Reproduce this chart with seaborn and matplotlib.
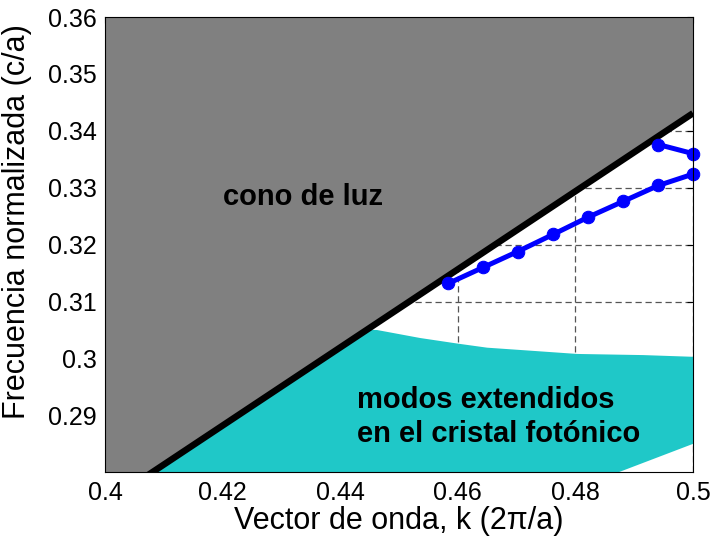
import numpy as np
import pandas as pd
import matplotlib
matplotlib.use("Agg")
import matplotlib.pyplot as plt
from matplotlib.ticker import FormatStrFormatter
import seaborn as sns

# light line (cono de luz boundary)
luz_k = [0.40, 0.50]
luz_f = [0.2745, 0.3431]

# extended modes region (cyan), upper and lower edges
ext_top_k = [0.40, 0.4463, 0.4536, 0.4601, 0.4650, 0.4706, 0.4803, 0.4915, 0.50]
ext_top_f = [0.3072, 0.3050, 0.3036, 0.3026, 0.3019, 0.3015, 0.3008, 0.3006, 0.3003]
ext_bot_k = [0.40, 0.4868, 0.50]
ext_bot_f = [0.246, 0.2798, 0.2850]

# guided bands
band1_k = [0.4584, 0.4643, 0.4702, 0.4762, 0.4821, 0.4881, 0.4941, 0.50]
band1_f = [0.3132, 0.3160, 0.3188, 0.3218, 0.3248, 0.3276, 0.3304, 0.3324]
band2_k = [0.4941, 0.50]
band2_f = [0.3376, 0.3360]

xticks = [0.40, 0.42, 0.44, 0.46, 0.48, 0.50]
yticks = [0.29, 0.30, 0.31, 0.32, 0.33, 0.34, 0.35, 0.36]

sns.set_style("white")
plt.rcParams['font.family'] = ['Liberation Sans', 'DejaVu Sans']
plt.rcParams['text.color'] = 'black'
plt.rcParams['axes.labelcolor'] = 'black'
plt.rcParams['xtick.color'] = 'black'
plt.rcParams['ytick.color'] = 'black'

fig = plt.figure(figsize=(7.12, 5.39), dpi=100)
ax = fig.add_axes([0.1475, 0.1237, 0.8258, 0.8447])

ax.grid(True, linestyle=(0, (5, 3)), color='#555555', linewidth=0.9)
ax.set_axisbelow(True)

# cyan region
poly_k = ext_top_k + ext_bot_k[::-1]
poly_f = ext_top_f + ext_bot_f[::-1]
ax.fill(poly_k, poly_f, color='#1FC8C8', lw=0, zorder=1)

# gray light cone
ax.fill_between(luz_k, luz_f, [0.37, 0.37], color='#808080', lw=0, zorder=2)
ax.plot(luz_k, luz_f, color='black', lw=4.7, zorder=3, solid_capstyle='butt')

df1 = pd.DataFrame({'k': band1_k, 'f': band1_f})
df2 = pd.DataFrame({'k': band2_k, 'f': band2_f})
for d in (df1, df2):
    sns.lineplot(data=d, x='k', y='f', ax=ax, color='blue', lw=3.6, marker='o',
                 markersize=9, markeredgecolor='blue', sort=False, zorder=4,
                 clip_on=False)

ax.text(0.4200, 0.3269, 'cono de luz', fontsize=21, fontweight='bold', zorder=5)
ax.text(0.4429, 0.2913, 'modos extendidos', fontsize=21, fontweight='bold', zorder=5)
ax.text(0.4429, 0.2854, 'en el cristal fotónico', fontsize=21, fontweight='bold', zorder=5)

ax.set_xlim(0.40, 0.50)
ax.set_ylim(0.28, 0.36)
ax.set_xticks(xticks)
ax.set_yticks(yticks)
ax.xaxis.set_major_formatter(FormatStrFormatter('%g'))
ax.yaxis.set_major_formatter(FormatStrFormatter('%g'))
ax.tick_params(direction='in', length=4, width=0.8, labelsize=18,
               top=True, right=True, pad=6)
for s in ax.spines.values():
    s.set_visible(True)
    s.set_color('black')
    s.set_linewidth(0.8)
    s.set_zorder(6)

ax.set_xlabel('Vector de onda, k (2π/a)', fontsize=22, labelpad=1)
ax.set_ylabel('Frecuencia normalizada (c/a)', fontsize=22)
ax.yaxis.set_label_coords(-0.124, 0.55)

fig.savefig('out.png', dpi=100)
